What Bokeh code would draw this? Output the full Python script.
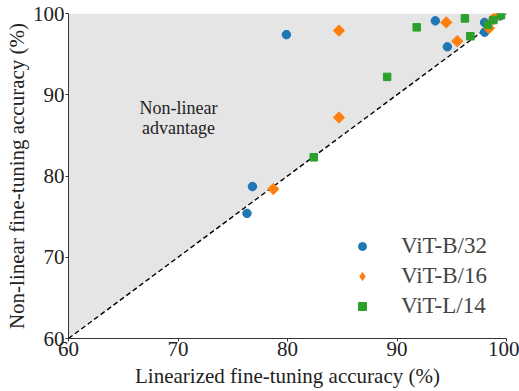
import math
from bokeh.plotting import figure
from bokeh.models import Legend, LegendItem, Label, FixedTicker
from bokeh.embed import file_html
from bokeh.resources import INLINE

FONT = "Liberation Serif"

b32_lin = [76.3, 76.8, 79.9, 93.5, 94.6, 98.0, 98.0, 99.4]
b32_nl = [75.4, 78.7, 97.4, 99.1, 95.9, 98.9, 97.7, 99.7]
b16_lin = [78.7, 84.7, 84.7, 94.5, 95.5, 98.4, 99.1, 98.8]
b16_nl = [78.4, 97.9, 87.2, 98.9, 96.6, 98.2, 99.7, 99.3]
l14_lin = [82.4, 89.1, 91.8, 96.2, 96.7, 98.3, 99.5, 98.8]
l14_nl = [82.3, 92.2, 98.3, 99.4, 97.2, 98.6, 99.8, 99.2]
diag = [60, 100]
ticks = [60, 70, 80, 90, 100]

p = figure(width=519, height=391, x_range=(60, 100), y_range=(60, 100),
           output_backend="svg", toolbar_location=None,
           min_border_left=68, min_border_right=13, min_border_top=13, min_border_bottom=53)
p.outline_line_color = None
p.grid.visible = False
p.background_fill_color = "white"

# shaded region above diagonal
p.patch([diag[0], diag[0], diag[1]], [diag[0], diag[1], diag[1]], fill_color="#e5e5e5", line_color=None)
p.line(diag, diag, line_color="black", line_dash="5 3", line_width=1.4)

r1 = p.scatter(b32_lin, b32_nl, marker="circle", size=8.5, color="#1f77b4")
# small diamonds (hidden under the rotated squares) provide the legend glyph
r2_leg = p.scatter(b16_lin, b16_nl, marker="diamond", size=6, color="#ff7f0e")
r2 = p.scatter(b16_lin, b16_nl, marker="square", size=8, angle=math.pi / 4, color="#ff7f0e")
r3 = p.scatter(l14_lin, l14_nl, marker="square", size=7.5, color="#2ca02c")

legend = Legend(items=[LegendItem(label="ViT-B/32", renderers=[r1]),
                       LegendItem(label="ViT-B/16", renderers=[r2_leg]),
                       LegendItem(label="ViT-L/14", renderers=[r3])],
                location=(284, 19), background_fill_alpha=0, border_line_color=None,
                label_text_font=FONT, label_text_font_size="23px", spacing=4,
                glyph_width=20, glyph_height=22, label_standoff=29, padding=10)
p.add_layout(legend, "center")

p.add_layout(Label(x=70.05, y=88.34, text="Non-linear", text_font=FONT, text_font_size="18px",
                   text_align="center", text_baseline="middle", text_color="#222222"))
p.add_layout(Label(x=70.05, y=85.9, text="advantage", text_font=FONT, text_font_size="18px",
                   text_align="center", text_baseline="middle", text_color="#222222"))

for ax in (p.xaxis[0], p.yaxis[0]):
    ax.ticker = FixedTicker(ticks=ticks)
    ax.minor_tick_line_color = None
    ax.major_label_text_font = FONT
    ax.major_label_text_font_size = "21px"
    ax.axis_label_text_font = FONT
    ax.axis_label_text_font_size = "21px"
    ax.axis_label_text_font_style = "normal"
    ax.major_tick_in = 0
    ax.major_tick_out = 3
    ax.axis_line_color = "#333333"
    ax.major_tick_line_color = "#333333"
    ax.major_label_text_color = "#222222"
    ax.axis_label_text_color = "#222222"

p.xaxis.axis_label = "Linearized fine-tuning accuracy (%)"
p.yaxis.axis_label = "Non-linear fine-tuning accuracy (%)"
p.xaxis.major_label_standoff = 0
p.yaxis.major_label_standoff = 1
p.xaxis.axis_label_standoff = 5
p.yaxis.axis_label_standoff = 1

open("out.html", "w").write(file_html(p, INLINE))
